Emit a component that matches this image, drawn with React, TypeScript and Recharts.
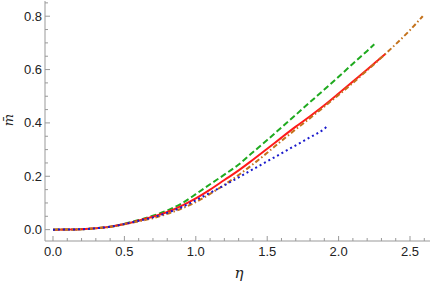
import React from 'react';
import { LineChart, Line, XAxis, YAxis } from 'recharts';

// 横軸 η の値
const etaGreen = [0, 0.1, 0.2, 0.3, 0.4, 0.5, 0.6, 0.7, 0.8, 0.9, 1.0, 1.1, 1.2, 1.3, 1.4, 1.5, 1.6, 1.7, 1.8, 1.9, 2.0, 2.1, 2.2, 2.25];
const etaRed = [0, 0.1, 0.2, 0.3, 0.4, 0.5, 0.6, 0.7, 0.8, 0.9, 1.0, 1.1, 1.2, 1.3, 1.4, 1.5, 1.6, 1.7, 1.8, 1.9, 2.0, 2.1, 2.2, 2.3, 2.327];
const etaOrange = [0, 0.1, 0.2, 0.3, 0.4, 0.5, 0.6, 0.7, 0.8, 0.9, 1.0, 1.1, 1.2, 1.3, 1.4, 1.5, 1.6, 1.7, 1.8, 1.9, 2.0, 2.1, 2.2, 2.3, 2.4, 2.5, 2.589];
const etaBlue = [0, 0.1, 0.2, 0.3, 0.4, 0.5, 0.6, 0.7, 0.8, 0.9, 1.0, 1.1, 1.2, 1.3, 1.4, 1.5, 1.6, 1.7, 1.8, 1.9, 1.917];

// 縦軸 m̄ の値
const mGreen = [0, 0.0003, 0.0015, 0.005, 0.011, 0.022, 0.036, 0.052, 0.072, 0.098, 0.133, 0.170, 0.206, 0.244, 0.290, 0.336, 0.383, 0.430, 0.478, 0.525, 0.573, 0.622, 0.670, 0.695];
const mRed = [0, 0.0003, 0.0015, 0.005, 0.011, 0.021, 0.034, 0.048, 0.066, 0.089, 0.117, 0.150, 0.186, 0.222, 0.262, 0.303, 0.345, 0.386, 0.425, 0.466, 0.510, 0.555, 0.600, 0.646, 0.658];
const mOrange = [0, 0.0003, 0.0015, 0.005, 0.011, 0.020, 0.031, 0.043, 0.059, 0.079, 0.103, 0.134, 0.168, 0.205, 0.245, 0.288, 0.333, 0.376, 0.418, 0.461, 0.505, 0.550, 0.597, 0.645, 0.695, 0.748, 0.800];
const mBlue = [0, 0.0003, 0.0015, 0.005, 0.011, 0.021, 0.033, 0.046, 0.063, 0.084, 0.110, 0.138, 0.166, 0.196, 0.226, 0.256, 0.286, 0.316, 0.346, 0.378, 0.386];

// 目盛り
const xMajor = [0, 0.5, 1.0, 1.5, 2.0, 2.5];
const xMinor = [0.1, 0.2, 0.3, 0.4, 0.6, 0.7, 0.8, 0.9, 1.1, 1.2, 1.3, 1.4, 1.6, 1.7, 1.8, 1.9, 2.1, 2.2, 2.3, 2.4, 2.6];
const yMajor = [0, 0.2, 0.4, 0.6, 0.8];
const yMinor = [0.05, 0.1, 0.15, 0.25, 0.3, 0.35, 0.45, 0.5, 0.55, 0.65, 0.7, 0.75, 0.85];

const toRows = (xs: number[], ys: number[]) => xs.map((x, i) => ({ x, y: ys[i] }));

const xDomain = [-0.056, 2.64];
const yDomain = [-0.0426, 0.857];

const FRAME = '#999999';
const FONT = '"Liberation Sans Narrow", "Liberation Sans", sans-serif';

const isMajor = (v: number, majors: number[]) => majors.some((m) => Math.abs(m - v) < 1e-6);

// 目盛り線は内向き
const BottomTick = (props: any) => {
  const { x, y, payload } = props;
  const major = isMajor(payload.value, xMajor);
  return (
    <g>
      <line x1={x} x2={x} y1={y} y2={y - (major ? 5 : 3)} stroke={FRAME} />
      {major && (
        <text x={x} y={y + 15} textAnchor="middle" fontSize={13} fontFamily={FONT} fill="#222">
          {payload.value.toFixed(1)}
        </text>
      )}
    </g>
  );
};
const TopTick = (props: any) => {
  const { x, y, payload } = props;
  const major = isMajor(payload.value, xMajor);
  return <line x1={x} x2={x} y1={y} y2={y + (major ? 5 : 3)} stroke={FRAME} />;
};
const LeftTick = (props: any) => {
  const { x, y, payload } = props;
  const major = isMajor(payload.value, yMajor);
  return (
    <g>
      <line x1={x} x2={x + (major ? 5 : 3)} y1={y} y2={y} stroke={FRAME} />
      {major && (
        <text x={x - 3} y={y + 4.5} textAnchor="end" fontSize={13} fontFamily={FONT} fill="#222">
          {payload.value.toFixed(1)}
        </text>
      )}
    </g>
  );
};
const RightTick = (props: any) => {
  const { x, y, payload } = props;
  const major = isMajor(payload.value, yMajor);
  return <line x1={x} x2={x - (major ? 5 : 3)} y1={y} y2={y} stroke={FRAME} />;
};

export default function App() {
  const xTicks = [...xMajor, ...xMinor].sort((a, b) => a - b);
  const yTicks = [...yMajor, ...yMinor].sort((a, b) => a - b);
  return (
    <div style={{ position: 'absolute', left: 0, top: 0, width: 436, height: 284, background: '#fff' }}>
      <LineChart width={436} height={284} margin={{ top: 1, right: 6, left: 0, bottom: 18 }}>
        <XAxis
          xAxisId="b" type="number" dataKey="x" domain={xDomain} ticks={xTicks} interval={0}
          allowDataOverflow height={25} tickSize={0} tickMargin={0} tickLine={false}
          axisLine={{ stroke: FRAME }} tick={<BottomTick />}
        />
        <XAxis
          xAxisId="t" orientation="top" type="number" dataKey="x" domain={xDomain} ticks={xTicks} interval={0}
          allowDataOverflow height={0} tickSize={0} tickMargin={0} tickLine={false}
          axisLine={{ stroke: FRAME }} tick={<TopTick />}
        />
        <YAxis
          yAxisId="l" type="number" domain={yDomain} ticks={yTicks} interval={0}
          allowDataOverflow width={45} tickSize={0} tickMargin={0} tickLine={false}
          axisLine={{ stroke: FRAME }} tick={<LeftTick />}
        />
        <YAxis
          yAxisId="r" orientation="right" type="number" domain={yDomain} ticks={yTicks} interval={0}
          allowDataOverflow width={0} tickSize={0} tickMargin={0} tickLine={false}
          axisLine={{ stroke: FRAME }} tick={<RightTick />}
        />
        <Line xAxisId="b" yAxisId="l" data={toRows(etaGreen, mGreen)} dataKey="y" type="monotone"
          stroke="#1faa1f" strokeWidth={2} strokeDasharray="6 3" dot={false} isAnimationActive={false} />
        <Line xAxisId="b" yAxisId="l" data={toRows(etaRed, mRed)} dataKey="y" type="monotone"
          stroke="#ff1a1a" strokeWidth={2} dot={false} isAnimationActive={false} />
        <Line xAxisId="b" yAxisId="l" data={toRows(etaOrange, mOrange)} dataKey="y" type="monotone"
          stroke="#c4721c" strokeWidth={2} strokeDasharray="5 2.5 1.5 2.5" dot={false} isAnimationActive={false} />
        <Line xAxisId="b" yAxisId="l" data={toRows(etaBlue, mBlue)} dataKey="y" type="monotone"
          stroke="#1a1acc" strokeWidth={2} strokeDasharray="2 3" dot={false} isAnimationActive={false} />
        <text x={239} y={278} textAnchor="middle" fontSize={15} fontStyle="italic" fontFamily="'DejaVu Serif', serif" fill="#222">
          η
        </text>
        <text x={13} y={120} textAnchor="middle" fontSize={13} fontStyle="italic" fontFamily="'DejaVu Serif', serif"
          fill="#222" transform="rotate(-90 13 120)">
          m̄
        </text>
      </LineChart>
    </div>
  );
}
